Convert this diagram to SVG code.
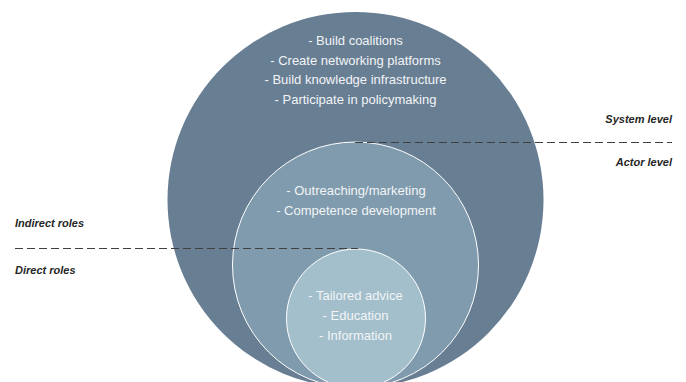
<svg xmlns="http://www.w3.org/2000/svg" width="686" height="382" viewBox="0 0 686 382">
  <style>
    .ctext { font-family: "Liberation Sans", Arial, sans-serif; font-size: 13px; fill: #F2F4F6; text-anchor: middle; }
    .label { font-family: "Liberation Sans", Arial, sans-serif; font-size: 11px; font-weight: bold; font-style: italic; fill: #262626; }
    .dash { stroke: #404040; stroke-width: 1.2; stroke-dasharray: 8 4; fill: none; }
    .inner { stroke: #FFFFFF; stroke-width: 1; }
  </style>
  <rect width="686" height="382" fill="#FFFFFF"/>
  <g id="system-circle">
    <circle cx="355.5" cy="200" r="188" fill="#687E93"/>
    <text class="ctext" x="355.5" y="45">- Build coalitions</text>
    <text class="ctext" x="355.5" y="64.5">- Create networking platforms</text>
    <text class="ctext" x="355.5" y="84">- Build knowledge infrastructure</text>
    <text class="ctext" x="355.5" y="103.5">- Participate in policymaking</text>
  </g>
  <g id="actor-circle">
    <circle class="inner" cx="355.5" cy="265" r="123" fill="#7F9BAD"/>
    <text class="ctext" x="356" y="195">- Outreaching/marketing</text>
    <text class="ctext" x="356" y="215">- Competence development</text>
  </g>
  <g id="direct-circle">
    <circle class="inner" cx="356" cy="318.5" r="69.5" fill="#A3BFCC"/>
    <text class="ctext" x="355.5" y="300">- Tailored advice</text>
    <text class="ctext" x="355.5" y="320">- Education</text>
    <text class="ctext" x="355.5" y="340">- Information</text>
  </g>
  <g id="connectors">
    <line class="dash" x1="355" y1="142.5" x2="672" y2="142.5"/>
    <line class="dash" x1="15" y1="248.5" x2="358" y2="248.5"/>
  </g>
  <g id="level-labels">
    <text class="label" x="672" y="123" text-anchor="end">System level</text>
    <text class="label" x="672" y="166" text-anchor="end">Actor level</text>
    <text class="label" x="15" y="227">Indirect roles</text>
    <text class="label" x="15" y="274">Direct roles</text>
  </g>
</svg>
